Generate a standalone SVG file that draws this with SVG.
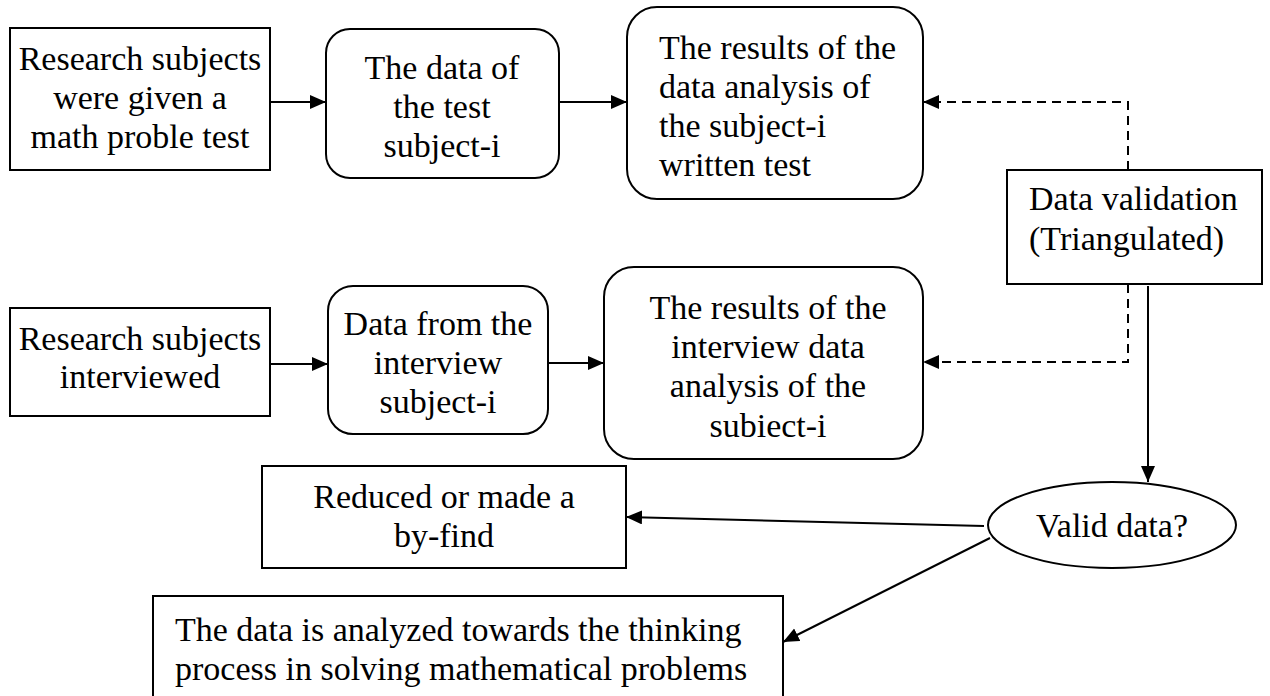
<svg xmlns="http://www.w3.org/2000/svg" width="1270" height="696" viewBox="0 0 1270 696">
<style>
.box{fill:#fff;stroke:#000;stroke-width:2}
.t{font-family:"Liberation Serif","Times New Roman",serif;font-size:34px;fill:#000}
.c{text-anchor:middle}
.ln{fill:none;stroke:#000;stroke-width:2}
.dash{stroke-dasharray:9 6}
</style>
<defs>
<marker id="ah" markerUnits="userSpaceOnUse" markerWidth="18" markerHeight="16" refX="16" refY="7" orient="auto">
<path d="M0,0 L16,7 L0,14 z" fill="#000"/>
</marker>
</defs>
<rect width="1270" height="696" fill="#fff"/>
<g id="connectors">
<line class="ln" x1="270" y1="102" x2="326" y2="102" marker-end="url(#ah)"/>
<line class="ln" x1="559" y1="102" x2="627" y2="102" marker-end="url(#ah)"/>
<line class="ln" x1="270" y1="364" x2="328" y2="364" marker-end="url(#ah)"/>
<line class="ln" x1="548" y1="363" x2="604" y2="363" marker-end="url(#ah)"/>
<polyline class="ln dash" points="1128,170 1128,102 923,102" marker-end="url(#ah)"/>
<polyline class="ln dash" points="1128,284 1128,362 923,362" marker-end="url(#ah)"/>
<line class="ln" x1="1148" y1="286" x2="1148" y2="482" marker-end="url(#ah)"/>
<line class="ln" x1="984" y1="526" x2="626" y2="517" marker-end="url(#ah)"/>
<line class="ln" x1="990" y1="538" x2="783" y2="642" marker-end="url(#ah)"/>
</g>
<g id="n1">
<rect class="box" x="10" y="28" width="260" height="142"/>
<text class="t c" x="140" y="70">Research subjects</text>
<text class="t c" x="140" y="109">were given a</text>
<text class="t c" x="140" y="148">math proble test</text>
</g>
<g id="n2">
<rect class="box" x="326" y="29" width="233" height="149" rx="24"/>
<text class="t c" x="442" y="79">The data of</text>
<text class="t c" x="442" y="118">the test</text>
<text class="t c" x="442" y="157">subject-i</text>
</g>
<g id="n3">
<rect class="box" x="627" y="7" width="296" height="192" rx="30"/>
<text class="t" x="659" y="59">The results of the</text>
<text class="t" x="659" y="98">data analysis of</text>
<text class="t" x="659" y="137">the subject-i</text>
<text class="t" x="659" y="176">written test</text>
</g>
<g id="n4">
<rect class="box" x="1007" y="170" width="255" height="114"/>
<text class="t" x="1029" y="210">Data validation</text>
<text class="t" x="1029" y="250">(Triangulated)</text>
</g>
<g id="n5">
<rect class="box" x="10" y="308" width="260" height="108"/>
<text class="t c" x="140" y="350">Research subjects</text>
<text class="t c" x="140" y="388">interviewed</text>
</g>
<g id="n6">
<rect class="box" x="328" y="286" width="220" height="148" rx="25"/>
<text class="t c" x="438" y="335">Data from the</text>
<text class="t c" x="438" y="374">interview</text>
<text class="t c" x="438" y="413">subject-i</text>
</g>
<g id="n7">
<rect class="box" x="604" y="267" width="319" height="192" rx="30"/>
<text class="t c" x="768" y="319">The results of the</text>
<text class="t c" x="768" y="358">interview data</text>
<text class="t c" x="768" y="397">analysis of the</text>
<text class="t c" x="768" y="437">subiect-i</text>
</g>
<g id="n8">
<rect class="box" x="262" y="466" width="364" height="102"/>
<text class="t c" x="444" y="508">Reduced or made a</text>
<text class="t c" x="444" y="547">by-find</text>
</g>
<g id="n9">
<ellipse class="box" cx="1112" cy="525" rx="124" ry="43"/>
<text class="t c" x="1112" y="537">Valid data?</text>
</g>
<g id="n10">
<rect class="box" x="153" y="596" width="630" height="110"/>
<text class="t" x="175" y="641">The data is analyzed towards the thinking</text>
<text class="t" x="175" y="680">process in solving mathematical problems</text>
</g>
</svg>
